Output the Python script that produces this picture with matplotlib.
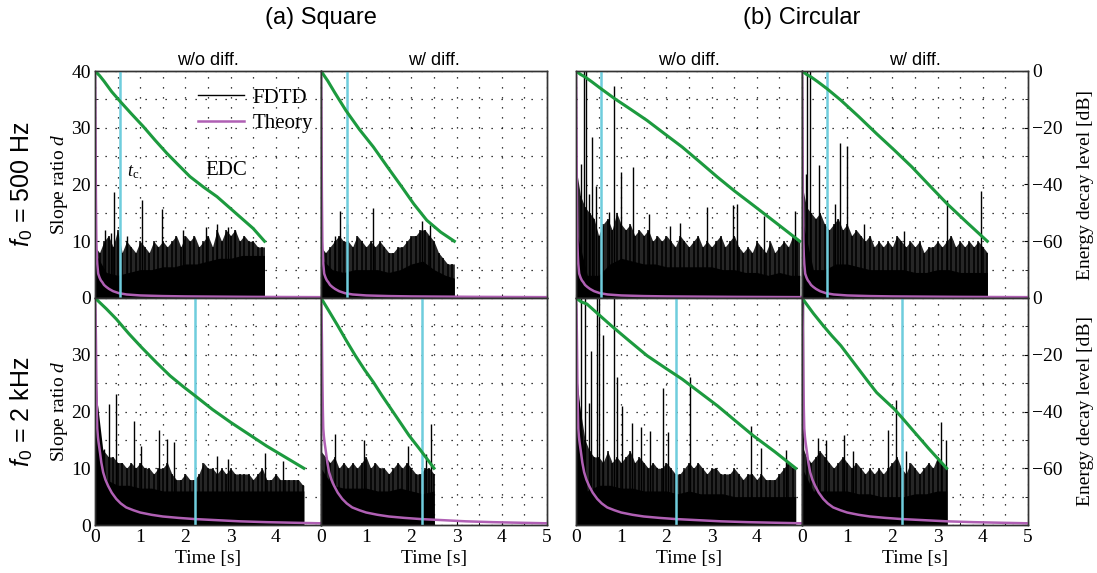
import numpy as np
import matplotlib
import matplotlib.pyplot as plt
from matplotlib.ticker import MultipleLocator

matplotlib.use('Agg')

plt.rcParams['font.family'] = 'Liberation Serif'
plt.rcParams['mathtext.fontset'] = 'custom'
plt.rcParams['mathtext.rm'] = 'Liberation Serif'
plt.rcParams['mathtext.it'] = 'Liberation Serif:italic'
plt.rcParams['mathtext.sf'] = 'Liberation Sans:italic'
plt.rcParams['mathtext.bf'] = 'Liberation Sans'

# ---- data ----
ENV_STEP = 0.1     # s, spacing of the FDTD envelope samples
FLOOR_STEP = 0.25  # s, spacing of the solid FDTD floor samples

# theory curves (same for every panel of a row)
theory_t_500 = [0, 0.005, 0.01, 0.015, 0.02, 0.03, 0.04, 0.05, 0.07, 0.1, 0.13, 0.16, 0.2, 0.25, 0.31,
                0.4, 0.53, 0.7, 1.0, 1.5, 2.0, 3.5, 5]
theory_d_500 = [40, 36, 30, 24, 18, 10, 7.5, 6, 4.3, 3.6, 3.1, 2.8, 2.3, 1.95, 1.6,
                1.2, 0.85, 0.62, 0.45, 0.34, 0.28, 0.2, 0.15]
theory_t_2k = [0, 0.01, 0.02, 0.03, 0.04, 0.05, 0.065, 0.08, 0.11, 0.14, 0.18, 0.23, 0.29, 0.37, 0.47,
               0.57, 0.69, 0.85, 1.0, 1.25, 1.5, 1.85, 2.2, 2.7, 3.2, 3.8, 4.5, 5]
theory_d_2k = [40, 38, 33, 26, 20.5, 17, 15.5, 14.5, 12.8, 11, 9.3, 8, 6.9, 5.7, 4.6,
               3.8, 3.1, 2.6, 2.2, 1.8, 1.5, 1.25, 1.05, 0.85, 0.65, 0.5, 0.38, 0.3]

# critical time t_c per panel (square w/o, square w/, circ w/o, circ w/)
tc_500 = [0.56, 0.57, 0.56, 0.55]
tc_2k = [2.21, 2.24, 2.22, 2.21]

# end time of the FDTD / EDC data per panel
end_500 = [3.75, 2.95, 4.95, 4.1]
end_2k = [4.62, 2.5, 4.86, 3.2]

# EDC [dB]
edc_t_sq500_wo = [0, 0.1, 0.2, 0.37, 0.55, 0.8, 1.07, 1.33, 1.59, 1.85, 2.1, 2.4, 2.7, 2.95, 3.2, 3.5, 3.75]
edc_db_sq500_wo = [0, -1.6, -3.6, -7.3, -10.6, -15.0, -19.6, -24.4, -29, -33.2, -37.2, -40.9, -44.3,
                   -47.8, -51.3, -55.5, -60]
edc_t_sq500_w = [0, 0.15, 0.3, 0.55, 0.85, 1.16, 1.47, 1.79, 2.05, 2.34, 2.65, 2.95]
edc_db_sq500_w = [0, -3.5, -7.5, -13.9, -20.6, -26.8, -33.8, -40.9, -46.8, -52.6, -56.8, -60]
edc_t_ci500_wo = [0, 0.1, 0.2, 0.35, 0.55, 0.86, 1.2, 1.57, 1.95, 2.35, 2.75, 3.13, 3.5, 3.92, 4.4, 4.95]
edc_db_ci500_wo = [0, -1.2, -2.1, -3.8, -6.2, -9.8, -13.4, -17.4, -22.0, -26.8, -32.2, -37.4, -42.2,
                   -47.3, -53.2, -60]
edc_t_ci500_w = [0, 0.1, 0.2, 0.35, 0.55, 0.86, 1.25, 1.65, 2.05, 2.43, 2.8, 3.21, 3.65, 4.1]
edc_db_ci500_w = [0, -1.2, -2.1, -3.8, -6.2, -10.3, -16.0, -22.1, -28.0, -33.8, -40.0, -46.8, -53.4, -60]
edc_t_sq2k_wo = [0, 0.25, 0.47, 0.75, 1.03, 1.35, 1.66, 1.95, 2.21, 2.6, 3.0, 3.4, 3.79, 4.2, 4.62]
edc_db_sq2k_wo = [0, -3.8, -7.4, -12.6, -17.4, -22.6, -27.4, -31.2, -34.4, -39.3, -43.8, -48.0, -52.1,
                  -56.0, -60]
edc_t_sq2k_w = [0, 0.18, 0.37, 0.56, 0.76, 0.96, 1.16, 1.35, 1.55, 1.75, 1.95, 2.2, 2.5]
edc_db_sq2k_w = [0, -4.7, -9.75, -15.0, -20.3, -25.2, -29.7, -34.4, -39.1, -43.8, -48.5, -53.6, -60]
edc_t_ci2k_wo = [0, 0.12, 0.24, 0.5, 0.78, 1.17, 1.57, 1.96, 2.35, 2.74, 3.13, 3.52, 3.92, 4.4, 4.86]
edc_db_ci2k_wo = [0, -1.4, -2.1, -5.8, -9.75, -15.0, -20.3, -24.5, -28.6, -33.3, -38, -43.2, -48.5,
                  -54.2, -60]
edc_t_ci2k_w = [0, 0.25, 0.47, 0.66, 0.86, 1.05, 1.25, 1.45, 1.65, 1.85, 2.04, 2.23, 2.43, 2.8, 3.2]
edc_db_ci2k_w = [0, -5.4, -9.75, -13.3, -16.8, -20.8, -25, -29.2, -33.3, -36.3, -39.1, -42.5, -46.2,
                 -53.0, -60]

# FDTD slope ratio: envelope (every 0.1 s), solid floor (every 0.25 s), tall spikes
env_sq500_wo = [9, 8, 10, 11, 9, 12, 8, 10, 9, 8, 10, 9, 8, 10, 9, 10, 9, 10, 11, 9, 11, 10, 11, 9, 10,
                11, 9, 12, 10, 12, 11, 12, 10, 11, 10, 10, 9, 9]
floor_sq500_wo = [8, 4.5, 4, 4.5, 5, 5, 5.5, 5.5, 6, 6, 6.5, 7, 7, 7.5, 7.5, 7.5]
spk_t_sq500_wo = [0.22, 0.35, 0.42, 0.7, 1.03, 1.49, 1.95, 2.45, 2.7, 2.95, 3.1]
spk_d_sq500_wo = [12, 11.5, 18.7, 11, 17.2, 15.6, 12, 12.5, 13, 12.5, 12]

env_sq500_w = [9, 8, 9, 10, 11, 10, 10, 9, 11, 10, 9, 10, 9, 10, 9, 8, 8, 9, 9, 10, 11, 11, 12, 12, 11,
               10, 8, 7, 6, 6]
floor_sq500_w = [7, 5, 4.5, 5, 5, 5, 4.5, 5, 6, 6.5, 5, 4, 3.5]
spk_t_sq500_w = [0.3, 0.42, 0.57, 1.14, 2.23, 2.41]
spk_d_sq500_w = [11, 15.4, 13, 15.8, 13.6, 12.8]

env_ci500_wo = [23, 18, 16, 15, 14, 11, 13, 14, 12, 15, 13, 12, 13, 11, 12, 11, 12, 10, 11, 10, 11, 10, 9,
                11, 10, 9, 10, 11, 9, 10, 9, 10, 11, 9, 10, 11, 9, 8, 9, 8, 10, 9, 8, 10, 8, 9, 10, 9, 11, 10]
floor_ci500_wo = [12, 4, 4, 6, 7, 6.5, 6, 6, 5.5, 5.5, 5.5, 5.5, 5.5, 5, 5, 4.5, 4.5, 4, 4.5, 4, 4]
spk_t_ci500_wo = [0.1, 0.17, 0.22, 0.29, 0.35, 0.44, 0.72, 0.85, 1.0, 1.25, 1.62, 2.08, 2.3, 2.89, 3.47,
                  3.57, 4.16, 4.85]
spk_d_ci500_wo = [23.7, 41, 41, 18.3, 28.4, 19.8, 15.1, 37.3, 22.2, 23.1, 14.8, 12.7, 13.3, 16, 16.3,
                  16.6, 14.5, 15.4]

env_ci500_w = [20, 16, 15, 14, 15, 13, 12, 13, 14, 12, 13, 11, 12, 11, 10, 11, 9, 10, 9, 10, 9, 11, 10, 9,
               10, 9, 10, 8, 9, 9, 10, 9, 10, 11, 9, 10, 9, 10, 9, 10, 9, 8]
floor_ci500_w = [14, 5, 5, 6, 6, 5.5, 5, 5, 5, 5, 4.5, 4.5, 5, 5, 4.5, 4.5, 4.5, 4.5]
spk_t_ci500_w = [0.09, 0.12, 0.18, 0.38, 0.73, 0.85, 0.99, 1.37, 2.26, 3.2, 3.95]
spk_d_ci500_w = [21.9, 41, 41, 23.4, 16.6, 27.4, 26.8, 13, 11.8, 17.2, 18.9]

env_sq2k_wo = [30, 14, 13, 12, 12, 11, 11, 10, 11, 10, 11, 10, 10, 9, 10, 10, 11, 9, 8, 8, 9, 8, 8, 9, 11,
               10, 10, 9, 10, 9, 10, 9, 9, 9, 9, 8, 9, 10, 8, 8, 9, 8, 8, 8, 8, 8, 7]
floor_sq2k_wo = [25, 8, 7, 7, 6.5, 6.5, 6, 6, 6, 6, 6, 6, 6, 6, 6, 6, 6, 6, 6, 6]
spk_t_sq2k_wo = [0.21, 0.3, 0.46, 0.87, 1.02, 1.42, 1.59, 1.75, 2.71, 2.94, 3.75, 4.15]
spk_d_sq2k_wo = [13.4, 21.4, 23.1, 18.4, 14, 16.8, 15.1, 14.6, 12.1, 11.6, 12.7, 11.2]

env_sq2k_w = [13, 12, 11, 12, 10, 11, 10, 11, 10, 11, 12, 10, 11, 10, 10, 9, 10, 11, 10, 11, 10, 9, 9, 10,
              10, 9]
floor_sq2k_w = [10, 7, 6.5, 6.5, 6.5, 6, 6, 6.5, 6, 5.5, 6]
spk_t_sq2k_w = [0.31, 0.96, 1.92, 2.32, 2.43]
spk_d_sq2k_w = [16, 14.9, 14, 12.5, 17.8]

env_ci2k_wo = [25, 20, 15, 13, 12, 12, 11, 13, 11, 12, 11, 12, 13, 11, 12, 11, 10, 11, 10, 10, 11, 10, 9, 9,
               10, 11, 10, 11, 10, 9, 10, 10, 9, 9, 9, 10, 9, 8, 9, 9, 8, 9, 8, 8, 8, 9, 10, 11, 10]
floor_ci2k_wo = [28, 6, 7, 7, 6.5, 6.5, 6, 6, 6, 5.5, 6, 5.5, 5.5, 5.5, 5, 5, 5, 5, 5, 5, 5]
spk_t_ci2k_wo = [0.12, 0.2, 0.28, 0.34, 0.46, 0.51, 0.59, 0.85, 0.9, 1.01, 1.24, 1.43, 1.64, 1.93, 2.04,
                 2.52, 3.87, 4.09, 4.65]
spk_d_ci2k_wo = [41, 41, 21.5, 30.6, 41, 41, 33.5, 41, 26, 21, 18, 17.2, 16.6, 24.1, 16.3, 26, 17.4,
                 13.5, 13.3]

env_ci2k_w = [14, 12, 11, 12, 13, 12, 11, 10, 11, 12, 11, 10, 11, 10, 9, 10, 9, 10, 9, 10, 11, 12, 10, 9,
              11, 10, 9, 10, 11, 10, 12, 11, 10]
floor_ci2k_w = [10, 6, 6, 6, 6, 5.5, 5.5, 5, 5, 5, 5.5, 5.5, 6, 6]
spk_t_ci2k_w = [0.03, 0.35, 0.54, 0.94, 1.12, 1.9, 2.07, 2.3, 3.07, 3.18]
spk_d_ci2k_w = [41, 15.3, 15, 15.9, 13, 16.8, 22, 13, 18.2, 15]

col_titles = ['w/o diff.', 'w/ diff.', 'w/o diff.', 'w/ diff.']
group_titles = ['(a) Square', '(b) Circular']
row_labels = [r'$\mathsf{f}_\mathbf{0}$ = 500 Hz', r'$\mathsf{f}_\mathbf{0}$ = 2 kHz']

rows = [
    dict(theory=(theory_t_500, theory_d_500), tc=tc_500, end=end_500,
         edc=[(edc_t_sq500_wo, edc_db_sq500_wo), (edc_t_sq500_w, edc_db_sq500_w),
              (edc_t_ci500_wo, edc_db_ci500_wo), (edc_t_ci500_w, edc_db_ci500_w)],
         fdtd=[(env_sq500_wo, floor_sq500_wo, spk_t_sq500_wo, spk_d_sq500_wo),
               (env_sq500_w, floor_sq500_w, spk_t_sq500_w, spk_d_sq500_w),
               (env_ci500_wo, floor_ci500_wo, spk_t_ci500_wo, spk_d_ci500_wo),
               (env_ci500_w, floor_ci500_w, spk_t_ci500_w, spk_d_ci500_w)]),
    dict(theory=(theory_t_2k, theory_d_2k), tc=tc_2k, end=end_2k,
         edc=[(edc_t_sq2k_wo, edc_db_sq2k_wo), (edc_t_sq2k_w, edc_db_sq2k_w),
              (edc_t_ci2k_wo, edc_db_ci2k_wo), (edc_t_ci2k_w, edc_db_ci2k_w)],
         fdtd=[(env_sq2k_wo, floor_sq2k_wo, spk_t_sq2k_wo, spk_d_sq2k_wo),
               (env_sq2k_w, floor_sq2k_w, spk_t_sq2k_w, spk_d_sq2k_w),
               (env_ci2k_wo, floor_ci2k_wo, spk_t_ci2k_wo, spk_d_ci2k_wo),
               (env_ci2k_w, floor_ci2k_w, spk_t_ci2k_w, spk_d_ci2k_w)]),
]

C_THEORY = '#b060b4'
C_EDC = '#1c9a3e'
C_TC = '#6fcddd'

# ---- layout (pixels of a 1097x573 canvas) ----
W, H = 1097, 573
fig = plt.figure(figsize=(W / 100, H / 100), dpi=100)
col_left = [95, 321, 576, 802]
pw = 226
row_top = [71, 298]
ph = 227

for r, row in enumerate(rows):
    for c in range(4):
        x0 = col_left[c] / W
        y0 = 1 - (row_top[r] + ph) / H
        ax = fig.add_axes([x0, y0, pw / W, ph / H])
        ax2 = ax.twinx()

        ax.set_xlim(0, 5)
        ax.set_ylim(0, 40)
        ax2.set_ylim(-80, 0)
        ax.xaxis.set_major_locator(MultipleLocator(1))
        ax.xaxis.set_minor_locator(MultipleLocator(0.5))
        ax.yaxis.set_major_locator(MultipleLocator(10))
        ax.yaxis.set_minor_locator(MultipleLocator(5))
        ax2.yaxis.set_major_locator(MultipleLocator(20))
        ax2.yaxis.set_minor_locator(MultipleLocator(10))
        ax.set_axisbelow(True)
        ax.grid(which='both', color='k', ls=(0, (1, 7)), lw=0.9)

        # FDTD
        env, floor, spk_t, spk_d = row['fdtd'][c]
        end = row['end'][c]
        et = np.append(np.arange(len(env)) * ENV_STEP, end)
        ev = np.append(env, env[-1])
        ax.fill_between(et, 0, ev, color='0.15', lw=0, zorder=2)
        ax.vlines(et[:-1], 0, env, color='k', lw=1.1, zorder=2)
        ft = np.minimum(np.arange(len(floor)) * FLOOR_STEP, end)
        ax.fill_between(ft, 0, floor, color='k', lw=0, zorder=2)
        ax.vlines(spk_t, 0, spk_d, color='k', lw=1.0, zorder=2)

        # theory
        th_t, th_d = row['theory']
        ax.plot(th_t, th_d, color=C_THEORY, lw=1.8, zorder=3, label='Theory')
        # t_c
        ax.axvline(row['tc'][c], color=C_TC, lw=1.8, zorder=4)
        # EDC
        edc_t, edc_db = row['edc'][c]
        ax2.plot(edc_t, edc_db, color=C_EDC, lw=2.2)

        for a in (ax, ax2):
            a.tick_params(which='both', direction='in', labelsize=14, pad=3)
            a.tick_params(which='major', length=3)
            a.tick_params(which='minor', length=2)
            for s in a.spines.values():
                s.set_color('#333333')
                s.set_linewidth(1.0)
        ax.tick_params(axis='y', which='both', left=(c == 0), labelleft=(c == 0))
        ax.tick_params(axis='x', which='both', labelbottom=(r == 1))
        ax2.tick_params(axis='y', which='both', right=(c == 3), labelright=(c == 3))

        if c == 0:
            ax.set_yticks([0, 10, 20, 30, 40])
            ax.set_yticklabels(['0', '10', '20', '30', '40' if r == 0 else ''])
            ax.set_ylabel(r'Slope ratio $d$', fontsize=14, labelpad=1)
            ax.yaxis.set_minor_locator(MultipleLocator(5))
        if c == 3:
            ax2.set_yticks([-80, -60, -40, -20, 0])
            ax2.set_yticklabels(['', '\u221260', '\u221240', '\u221220', '0'])
            ax2.set_ylabel('Energy decay level [dB]', fontsize=14, labelpad=10)
        if r == 1:
            ax.set_xticks([0, 1, 2, 3, 4, 5])
            if c in (0, 2):
                ax.set_xticklabels(['0', '1', '2', '3', '4', ''])
            ax.set_xlabel('Time [s]', fontsize=14, labelpad=3)
        else:
            ax.set_title(col_titles[c], fontsize=13, family='Liberation Sans', pad=4)

        if r == 0 and c == 0:
            ax.plot([], [], color='k', lw=1.0, label='FDTD')
            h, l = ax.get_legend_handles_labels()
            ax.legend([h[1], h[0]], [l[1], l[0]], loc='upper right', bbox_to_anchor=(1.02, 0.98),
                      frameon=False, fontsize=15, handlelength=2.2, handletextpad=0.4,
                      labelspacing=0.3, borderaxespad=0.2)
            ax.text(0.7, 22.2, r'$t_\mathrm{c}$', fontsize=13, ha='left', va='center')
            ax.text(2.45, 22.5, 'EDC', fontsize=15, ha='left', va='center')

for i, title in enumerate(group_titles):
    xc = (col_left[2 * i] + col_left[2 * i + 1] + pw) / 2 / W
    fig.text(xc, 1 - 18 / H, title, ha='center', va='center', fontsize=17, family='Liberation Sans')

for r, lab in enumerate(row_labels):
    yc = 1 - (row_top[r] + ph / 2) / H
    fig.text(22 / W, yc, lab, rotation=90, ha='center', va='center', fontsize=18,
             family='Liberation Sans')

fig.savefig('out.png', dpi=100)
